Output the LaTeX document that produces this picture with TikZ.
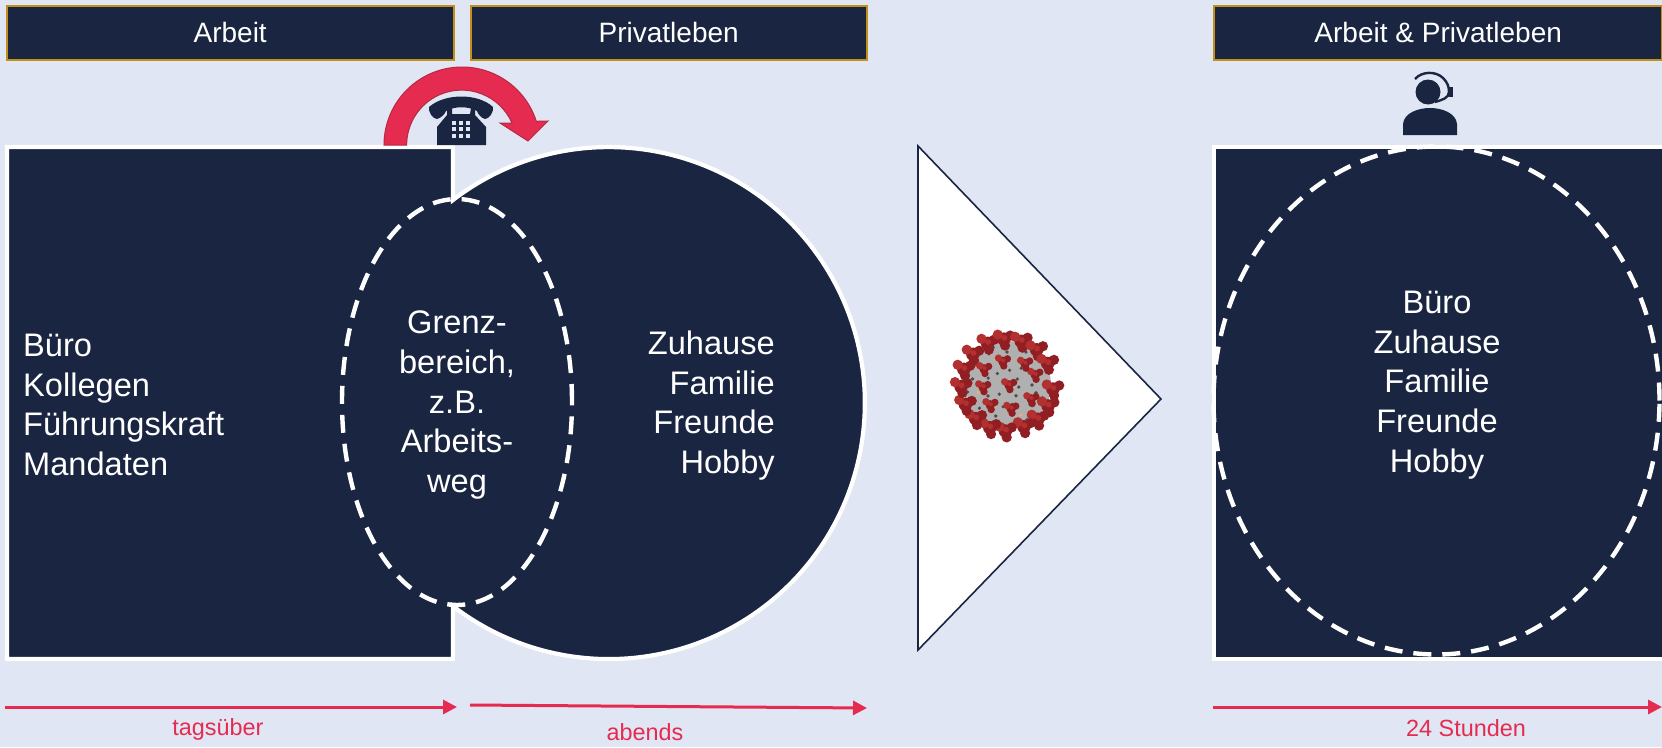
\documentclass[tikz,border=0pt]{standalone}
\usepackage{fontspec}
\setmainfont{Liberation Sans}
\usetikzlibrary{arrows.meta}
\definecolor{bgc}{RGB}{224,230,243}
\definecolor{navy}{RGB}{26,37,65}
\definecolor{gold}{RGB}{192,144,24}
\definecolor{redc}{RGB}{230,43,81}
\definecolor{redd}{RGB}{183,40,67}
\definecolor{vred}{RGB}{145,30,34}
\definecolor{vredl}{RGB}{178,48,48}
\definecolor{vgray}{RGB}{176,176,176}
\tikzset{
  headbox/.style={draw=gold,fill=navy,line width=2.4pt,text=white,font=\fontsize{28}{32}\selectfont,anchor=north west,inner sep=0pt,minimum height=54pt},
  bodytext/.style={text=white,font=\fontsize{32.6}{39.6}\selectfont,inner sep=0pt},
  timearrow/.style={draw=redc,line width=3pt,-{Triangle[length=14pt,width=14pt]}},
  timelabel/.style={text=redc,font=\fontsize{23.4}{28}\selectfont,inner sep=0pt},
  dashline/.style={draw=white,line width=4.4pt,dash pattern=on 18pt off 11pt},
  outline/.style={draw=white,line width=4.2pt,fill=navy},
  spike/.style={fill=vred},
}
\newcommand{\spk}[3]{%
  \fill[spike] (#1:#2) circle[radius=#3*1.05pt];
  \fill[vredl] (#1:#2) ++(-#3*0.95,-#3*0.7) circle[radius=#3*0.8pt];
  \fill[vred] (#1:#2) ++(#3*1.0,-#3*0.55) circle[radius=#3*0.8pt];
  \fill[vred] (#1:#2) ++(#3*0.2,#3*1.0) circle[radius=#3*0.8pt];
  \fill[vredl] (#1:#2) ++(#3*0.1,-#3*0.2) circle[radius=#3*0.45pt];
}
\begin{document}
\begin{tikzpicture}[x=1pt,y=-1pt]
\useasboundingbox (0,0) rectangle (1662,747);
\fill[bgc] (0,0) rectangle (1662,747);

% headers
\node[headbox,minimum width=447pt] (h1) at (5.5,4.5) {Arbeit};
\node[headbox,minimum width=396pt] (h2) at (469.5,4.5) {Privatleben};
\node[headbox,minimum width=448pt] (h3) at (1213,4.5) {Arbeit \& Privatleben};

% left combined shape
\draw[outline,line join=miter] (7,147) -- (453,147) -- (453,200)
  arc[start angle=127.5,end angle=-127.5,radius=256pt]
  -- (453,659) -- (7,659) -- cycle;
\draw[dashline] (457,402) ellipse[x radius=115pt,y radius=203pt];

% right shape
\draw[outline] (1214,147) rectangle (1664,659);
\draw[dashline] (1436.5,400.5) ellipse[x radius=223pt,y radius=254pt];

% triangle
\draw[draw=navy,fill=white,line width=1.6pt,line join=miter] (918,146) -- (1161,399) -- (918,650) -- cycle;

% texts
\node[bodytext,align=left,anchor=west] (t1) at (23,405) {Büro\\Kollegen\\Führungskraft\\Mandaten};
\node[bodytext,align=center] (t2) at (457,405) {Grenz-\\bereich,\\z.B.\\Arbeits-\\weg};
\node[bodytext,align=right,anchor=east] (t3) at (775,405.5) {Zuhause\\Familie\\Freunde\\Hobby};
\node[bodytext,align=center] (t4) at (1437,385) {Büro\\Zuhause\\Familie\\Freunde\\Hobby};

% time arrows
\coordinate (a1s) at (5,707); \coordinate (a1e) at (457,707);
\coordinate (a2s) at (470,705); \coordinate (a2e) at (867,708);
\coordinate (a3s) at (1213,707); \coordinate (a3e) at (1662,707);
\draw[timearrow] (a1s) -- (a1e);
\draw[timearrow] (a2s) -- (a2e);
\draw[timearrow] (a3s) -- (a3e);
\node[timelabel] (l1) at (218,729) {tagsüber};
\node[timelabel] (l2) at (645,732) {abends};
\node[timelabel] (l3) at (1466,728) {24 Stunden};

% red curved arrow
\draw[draw=redd,fill=redc,line width=1pt,line join=miter]
  (384,145) arc[start angle=180,end angle=17.7,radius=78pt]
  -- (548,121) -- (528,141) -- (500,123) -- (512,123)
  arc[start angle=23.7,end angle=180,radius=55pt] -- cycle;

% telephone
\fill[navy] (429,107) .. controls (445,93) and (478,93) .. (493,107)
  .. controls (494,112) and (489,119) .. (485,119)
  .. controls (481,118) and (478,114) .. (477,111)
  .. controls (468,106) and (455,106) .. (446,111)
  .. controls (445,114) and (441,118) .. (437,119)
  .. controls (433,119) and (428,112) .. (429,107) -- cycle;
\fill[navy] (437,145) -- (486,145) -- (486,127) -- (475,115) -- (475,108) -- (471,108)
  -- (470,114) -- (452,114) -- (452,108) -- (447,108) -- (447,115) -- (437,127) -- cycle;
\foreach \px in {454,461,468} \foreach \py in {123,129,136}
  \fill[bgc] (\px-1.8,\py-1.8) rectangle (\px+1.8,\py+1.8);

% headset person
\fill[navy] (1428,92) circle[radius=12.5pt];
\fill[navy] (1403,135) -- (1403,124) .. controls (1404,113) and (1418,108) .. (1430,108)
  .. controls (1442,108) and (1456,113) .. (1457,124) -- (1457,135) -- cycle;
\draw[navy,line width=2.4pt] (1415,79) .. controls (1422,71) and (1436,71) .. (1443,78)
  .. controls (1447,82) and (1449,86) .. (1449,92);
\draw[navy,line width=2.4pt] (1449,92) .. controls (1449,98) and (1442,100) .. (1435,102);
\fill[navy] (1449,87) rectangle (1453,97);

% virus
\begin{scope}[shift={(1007,385)}]
  \fill[vgray] (0,0) circle[radius=44pt];
  \foreach \a/\r in {10/12,40/30,75/20,110/33,150/22,190/35,230/15,270/33,310/22,340/36,20/38,130/12,210/38,290/40,60/40,170/40,250/40,0/25,95/40,320/40,50/14,100/22,140/36,200/20,280/15,330/12,15/30,120/42,240/36,300/38}
    \fill[gray!60!black] (\a:\r) circle[radius=1.8pt];
  \foreach \a/\r in {25/25,65/33,120/26,165/30,205/28,245/28,300/30,335/28,85/42,185/42,5/42}
    \fill[orange!65!white] (\a:\r) circle[radius=1.6pt];
  \foreach \a/\r in {5/46,27/46,48/46,68/45,92/46,112/46,133/46,155/46,178/46,200/46,222/46,245/46,266/46,288/46,310/46,332/46}
    \spk{\a}{\r}{6.4};
  \foreach \a/\r in {0/2,-20/30,30/28,80/24,130/26,175/24,215/28,260/24,310/28}
    \spk{\a}{\r}{4.6};
\end{scope}
\end{tikzpicture}
\end{document}
